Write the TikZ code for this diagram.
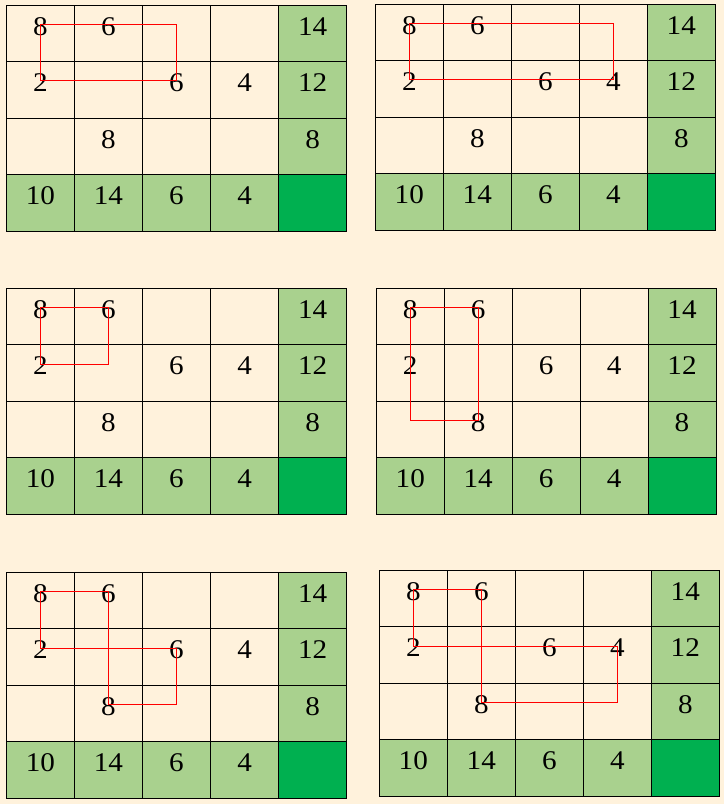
\documentclass[tikz,border=0pt]{standalone}
\usepackage{fontspec}
\setmainfont{Liberation Serif}
\definecolor{bgc}{HTML}{FFF2DC}
\definecolor{lgc}{HTML}{A9D18E}
\definecolor{dgc}{HTML}{00B050}
\tikzset{
  gline/.style={black, line width=1pt},
  numtxt/.style={font=\fontsize{27}{31}\selectfont, inner sep=0pt},
  redpath/.style={red, line width=1.1pt, line join=miter},
}
\newcommand\gridpic[5]{%
\begin{scope}[shift={(#2,#3)}]
\pgfmathsetmacro\cw{(#4-#2)/5}
\pgfmathsetmacro\rh{(#5-#3)/4}
\begin{scope}[x=\cw pt, y=-\rh pt]
\fill[lgc] (4,0) rectangle (5,3);
\fill[lgc] (0,3) rectangle (4,4);
\fill[dgc] (4,3) rectangle (5,4);
\foreach \i in {1,...,4} \draw[gline] (\i,0) -- (\i,4);
\foreach \j in {1,...,3} \draw[gline] (0,\j) -- (5,\j);
\draw[gline] (0,0) rectangle (5,4);
\foreach \r/\c/\v in {0/0/8, 0/1/6, 0/4/14, 1/0/2, 1/2/6, 1/3/4, 1/4/12, 2/1/8, 2/4/8, 3/0/10, 3/1/14, 3/2/6, 3/3/4}
  \node[numtxt, yshift=7pt] (#1-n\r\c) at (\c+0.5,\r+0.5) {\scalebox{1.08}[1]{\v}};
\foreach \r in {0,1,2} \foreach \c in {0,...,3}
  \coordinate[yshift=9pt] (#1-p\r\c) at (\c+0.5,\r+0.5);
\end{scope}
\end{scope}}
\begin{document}
\begin{tikzpicture}[x=1pt,y=-1pt]
\fill[bgc] (0,0) rectangle (724,804);
\useasboundingbox (0,0) rectangle (724,804);
\gridpic{g1}{6.3}{5.3}{346.7}{231}
\gridpic{g2}{375.3}{4.3}{715.3}{230}
\gridpic{g3}{6.3}{288.3}{346.7}{514.3}
\gridpic{g4}{376.3}{288.3}{716}{514.3}
\gridpic{g5}{6.3}{572.3}{346.7}{798.3}
\gridpic{g6}{379.3}{570.3}{719.3}{796.3}
\draw[redpath] (g1-p00) -- (g1-p02) -- (g1-p12) -- (g1-p10) -- cycle;
\draw[redpath] (g2-p00) -- (g2-p03) -- (g2-p13) -- (g2-p10) -- cycle;
\draw[redpath] (g3-p00) -- (g3-p01) -- (g3-p11) -- (g3-p10) -- cycle;
\draw[redpath] (g4-p00) -- (g4-p01) -- (g4-p21) -- (g4-p20) -- cycle;
\draw[redpath] (g5-p00) -- (g5-p01) -- (g5-p21) -- (g5-p22) -- (g5-p12) -- (g5-p10) -- cycle;
\draw[redpath] (g6-p00) -- (g6-p01) -- (g6-p21) -- (g6-p23) -- (g6-p13) -- (g6-p10) -- cycle;
\end{tikzpicture}
\end{document}
